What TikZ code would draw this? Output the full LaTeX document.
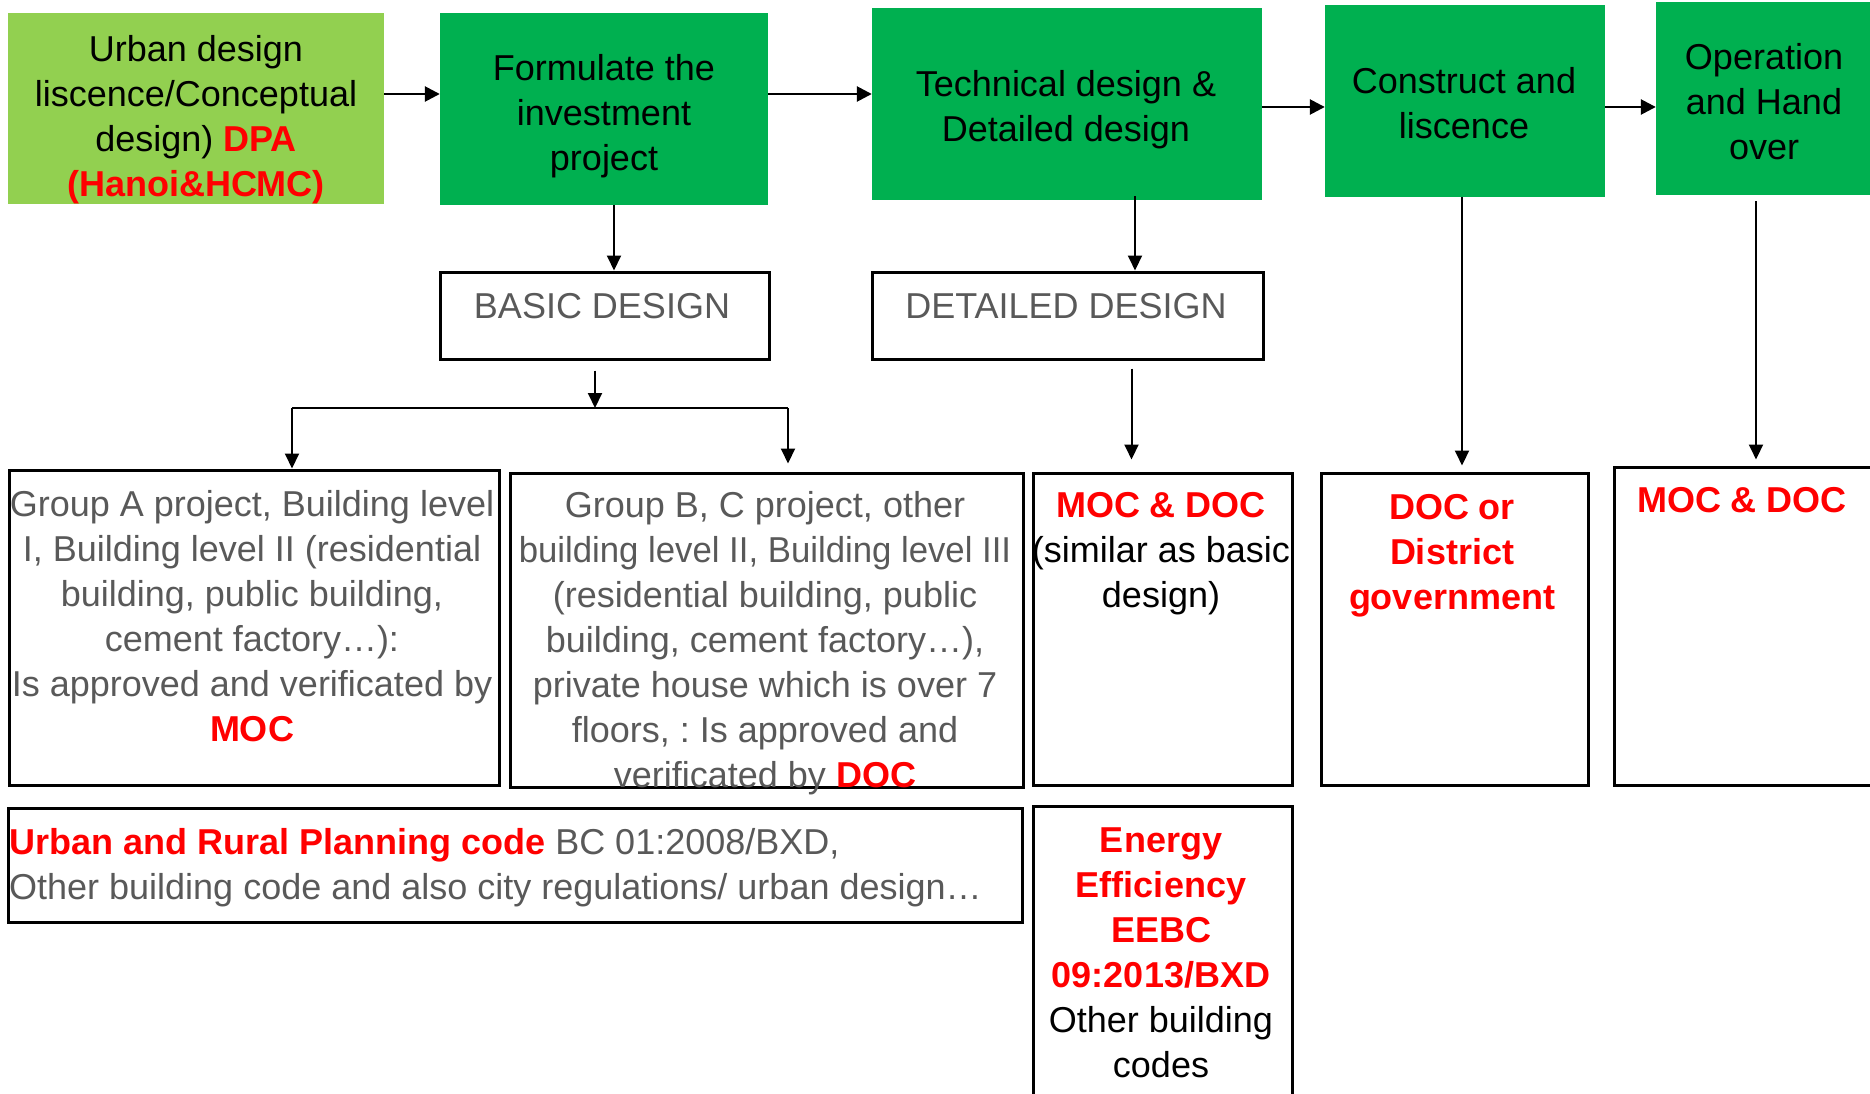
\documentclass[tikz,border=0pt]{standalone}
\usepackage{fontspec}
\setmainfont{Liberation Sans}
\usetikzlibrary{arrows.meta}
\definecolor{lgreen}{HTML}{92D050}
\definecolor{dgreen}{HTML}{00B050}
\definecolor{myred}{HTML}{FF0000}
\definecolor{mygray}{HTML}{595959}
\newcommand{\redb}[1]{\textcolor{myred}{\bfseries #1}}
\frenchspacing
\tikzset{
  gbox/.style={rectangle, inner sep=0pt, draw=none},
  wbox/.style={rectangle, inner sep=0pt, draw=black, line width=3pt},
  txt/.style={anchor=north, align=center, inner sep=0pt, font=\fontsize{36}{45}\selectfont},
  harr/.style={-{Triangle[length=15pt,width=15pt]}, line width=2.6pt},
  varr/.style={-{Triangle[length=15pt,width=14pt]}, line width=2pt},
}
\begin{document}
\begin{tikzpicture}[x=1pt,y=-1pt]
\useasboundingbox (0,0) rectangle (1870,1094);
% top row
\node[gbox, fill=lgreen, minimum width=376pt, minimum height=191pt] (B1) at (196,108.5) {};
\node[gbox, fill=dgreen, minimum width=328pt, minimum height=192pt] (B2) at (604,109) {};
\node[gbox, fill=dgreen, minimum width=390pt, minimum height=192pt] (B3) at (1067,104) {};
\node[gbox, fill=dgreen, minimum width=280pt, minimum height=192pt] (B4) at (1465,101) {};
\node[gbox, fill=dgreen, minimum width=216pt, minimum height=193pt] (B5) at (1764,98.5) {};
\node[txt] (T1) at (196,29.5) {\strut Urban design\\liscence/Conceptual\\design) \redb{DPA}\\\redb{(Hanoi\&HCMC)}};
\node[txt] (T2) at (604,48.5) {\strut Formulate the\\investment\\project};
\node[txt] (T3) at (1066,64.5) {\strut Technical design \&\\Detailed design};
\node[txt] (T4) at (1464,61.5) {\strut Construct and\\liscence};
\node[txt] (T5) at (1764,37.5) {\strut Operation\\and Hand\\over};
% second row
\node[wbox, minimum width=329pt, minimum height=87pt] (BASIC) at (604.5,315.5) {};
\node[wbox, minimum width=391pt, minimum height=87pt] (DET) at (1067.5,315.5) {};
\node[txt, text=mygray] (TBASIC) at (602,286.5) {\strut BASIC DESIGN};
\node[txt, text=mygray] (TDET) at (1066,286.5) {\strut DETAILED DESIGN};
% third row
\node[wbox, minimum width=490pt, minimum height=315pt] (GA) at (254,627.5) {};
\node[wbox, minimum width=513pt, minimum height=314pt] (GB) at (766.5,630) {};
\node[wbox, minimum width=259pt, minimum height=312pt] (C3) at (1162.5,629) {};
\node[wbox, minimum width=267pt, minimum height=312pt] (C4) at (1454.5,629) {};
\node[wbox, minimum width=261pt, minimum height=318pt] (C5) at (1744.5,626) {};
\node[txt, text=mygray] (TGA) at (252,484.5) {\strut Group A project, Building level\\I, Building level II (residential\\building, public building,\\cement factory…):\\Is approved and verificated by\\\redb{MOC}};
\node[txt, text=mygray] (TGB) at (765,485.5) {\strut Group B, C project, other\\\scalebox{0.965}[1]{building level II, Building level III}\\(residential building, public\\building, cement factory…),\\private house which is over 7\\floors, : Is approved and\\verificated by \redb{DOC}};
\node[txt] (TC3) at (1161,485.5) {\strut\redb{MOC \& DOC}\\(similar as basic\\design)};
\node[txt] (TC4) at (1452,487.5) {\strut\redb{DOC or}\\\redb{District}\\\redb{government}};
\node[txt] (TC5) at (1742,480.5) {\strut\redb{MOC \& DOC}};
% fourth row
\node[wbox, minimum width=1014pt, minimum height=114pt] (UR) at (515,865) {};
\node[wbox, minimum width=259pt, minimum height=304pt] (EN) at (1162.5,958) {};
\node[txt, anchor=north west, align=left, text=mygray] (TUR) at (9,822.5) {\strut\redb{Urban and Rural Planning code} BC 01:2008/BXD,\\Other building code and also city regulations/ urban design…};
\node[txt] (TEN) at (1161,820.5) {\strut\redb{Energy}\\\redb{Efficiency}\\\redb{EEBC}\\\redb{09:2013/BXD}\\Other building\\codes};
% connectors
\coordinate (ya) at (0,94);
\coordinate (yb) at (0,107);
\draw[harr] (B1.east |- ya) -- (B2.west |- ya);
\draw[harr] (B2.east |- ya) -- (B3.west |- ya);
\draw[harr] (B3.east |- yb) -- (B4.west |- yb);
\draw[harr] (B4.east |- yb) -- (B5.west |- yb);
\coordinate (xa) at (614,0);
\draw[varr] (B2.south -| xa) -- (BASIC.north -| xa);
\coordinate (xb) at (1135,0);
\draw[varr] ([yshift=4pt]B3.south -| xb) -- (DET.north -| xb);
\coordinate (split) at (595,408);
\draw[varr] ([yshift=-10pt]BASIC.south -| split) -- (split);
\coordinate (sl) at (292,408);
\coordinate (sr) at (788,408);
\draw[line width=2pt] (sl) -- (sr);
\draw[varr] (sl) -- (GA.north -| sl);
\draw[varr] (sr) -- ([yshift=8pt]GB.north -| sr);
\coordinate (xc) at (1131.5,0);
\draw[varr] ([yshift=-8pt]DET.south -| xc) -- ([yshift=12pt]C3.north -| xc);
\coordinate (xd) at (1462,0);
\draw[varr] (B4.south -| xd) -- ([yshift=6pt]C4.north -| xd);
\coordinate (xe) at (1756,0);
\draw[varr] ([yshift=-6pt]B5.south -| xe) -- ([yshift=6pt]C5.north -| xe);
\end{tikzpicture}
\end{document}
